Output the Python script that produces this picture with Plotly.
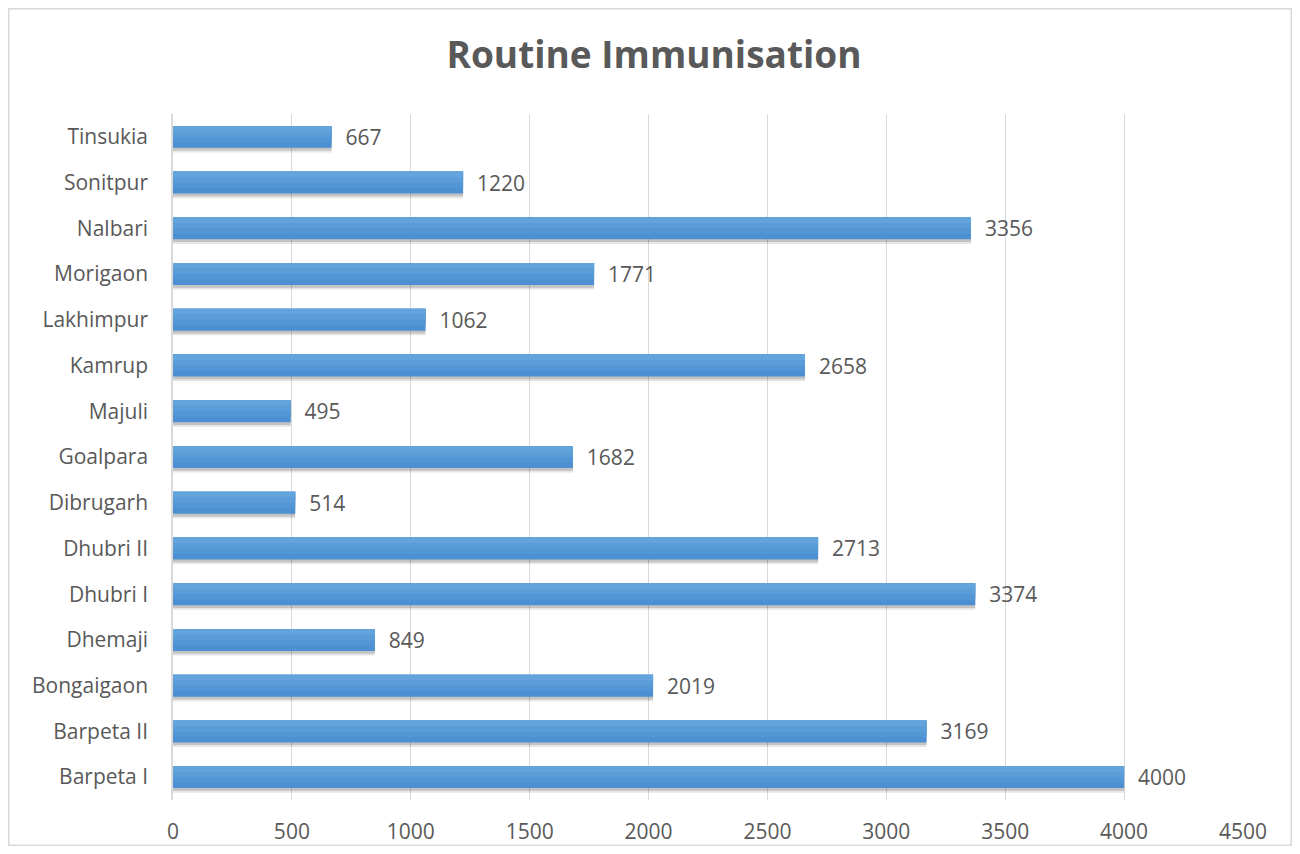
import plotly.graph_objects as go

districts = ["Barpeta I", "Barpeta II", "Bongaigaon", "Dhemaji", "Dhubri I", "Dhubri II",
             "Dibrugarh", "Goalpara", "Majuli", "Kamrup", "Lakhimpur", "Morigaon",
             "Nalbari", "Sonitpur", "Tinsukia"]
values = [4000, 3169, 2019, 849, 3374, 2713, 514, 1682, 495, 2658, 1062, 1771, 3356, 1220, 667]
x_ticks = [0, 500, 1000, 1500, 2000, 2500, 3000, 3500, 4000, 4500]

FONT = "Open Sans"
GRAY = "#595959"

# page body has an 8px margin; figure is sized to fit the 1300x854 window
W, H = 1284, 838
L, R, T, B = 165, 49, 106, 46
PW, PH = W - L - R, H - T - B

fig = go.Figure()
# soft drop shadow (two layers)
for off, alpha in [(-0.34, 0.10), (-0.30, 0.15)]:
    fig.add_trace(go.Bar(
        y=districts, x=values, orientation="h", width=0.48, offset=off,
        marker=dict(color=f"rgba(0,0,0,{alpha})", line=dict(width=0)),
        hoverinfo="skip",
    ))
# main bar (darker base), with lighter bands to mimic the vertical gradient
fig.add_trace(go.Bar(
    y=districts, x=values, orientation="h", width=0.48, offset=-0.24,
    marker=dict(color="#4C8FD2", line=dict(width=0)),
    text=values,
    texttemplate="\u00a0\u00a0%{x}",
    textposition="outside",
    constraintext="none",
    cliponaxis=False,
    textfont=dict(family=FONT, size=21, color=GRAY),
))
for off, wd, col in [(-0.12, 0.36, "#5396D5"), (0.0, 0.24, "#5B9DD9"), (0.12, 0.12, "#64A4DC")]:
    fig.add_trace(go.Bar(
        y=districts, x=values, orientation="h", width=wd, offset=off,
        marker=dict(color=col, line=dict(width=0)),
        hoverinfo="skip",
    ))

fig.update_layout(
    width=W, height=H,
    margin=dict(l=L, r=R, t=T, b=B, autoexpand=False),
    paper_bgcolor="white", plot_bgcolor="white",
    barmode="overlay",
    title=dict(text="<b>Routine Immunisation</b>", x=646 / W, xref="container", xanchor="center",
               y=1 - 47 / H, yref="container", yanchor="middle",
               font=dict(family=FONT, size=37, color=GRAY)),
    showlegend=False,
    xaxis=dict(range=[0, 4500], tickvals=x_ticks, showgrid=True, gridcolor="#D9D9D9",
               gridwidth=1, zeroline=False, showline=False, automargin=False,
               tickfont=dict(family=FONT, size=21, color=GRAY), ticks="", ticklabelstandoff=17),
    yaxis=dict(showgrid=False, showline=True, linecolor="#D9D9D9", linewidth=1.5,
               range=[-0.5, len(districts) - 0.5], automargin=False,
               ticks="", tickfont=dict(family=FONT, size=21, color=GRAY), ticklabelstandoff=19,
               categoryorder="array", categoryarray=districts),
    shapes=[dict(type="rect", xref="paper", yref="paper",
                 x0=(0.75 - L) / PW, x1=(W - 0.75 - L) / PW,
                 y0=-(H - 0.75 - (H - B)) / PH, y1=(H - B - 0.75) / PH,
                 line=dict(color="#D9D9D9", width=1.5), fillcolor="rgba(0,0,0,0)", layer="below")],
)

fig.write_html("out.html")
